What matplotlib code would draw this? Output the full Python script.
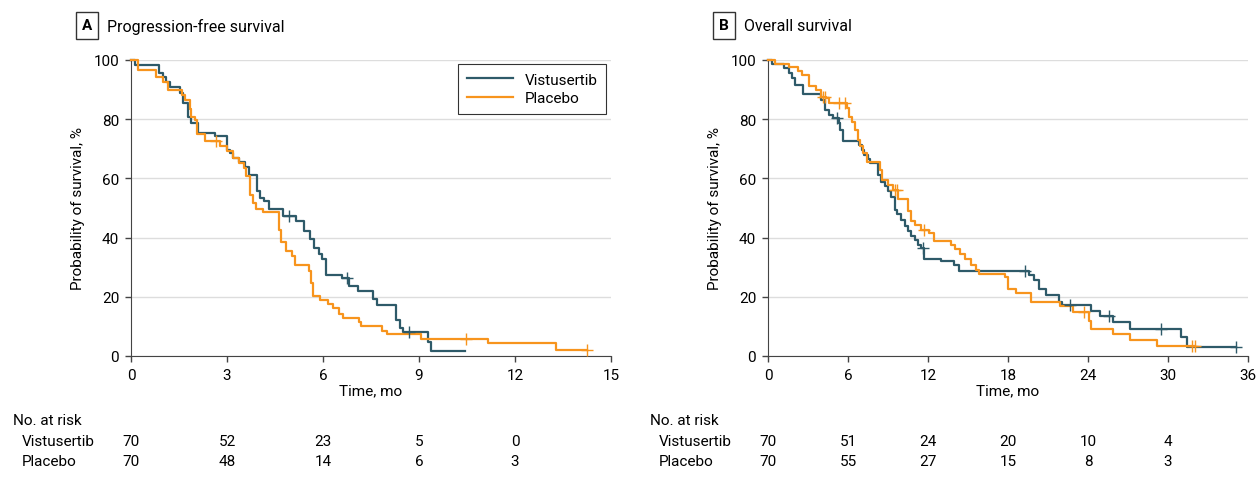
import numpy as np
import matplotlib.pyplot as plt

plt.rcParams['font.family'] = ['Liberation Sans Narrow', 'Roboto', 'DejaVu Sans']
plt.rcParams['font.size'] = 11

teal = '#2e5a69'
orange = '#f7941d'

# Progression-free survival, Vistusertib (time in months, survival %)
pfs_vis_t = [0, 0.12, 0.89, 1.0, 1.1, 1.21, 1.52, 1.63, 1.79, 1.89, 2.1, 2.63, 3.01, 3.1, 3.2,
             3.36, 3.57, 3.68, 3.94, 4.04, 4.15, 4.31, 4.75, 5.15, 5.4, 5.6, 5.73, 5.86, 5.97,
             6.1, 6.6, 6.8, 7.1, 7.56, 7.68, 8.29, 8.4, 8.5, 9.29, 9.38]
pfs_vis_s = [100, 98.3, 95.5, 94.4, 92.7, 91.0, 88.8, 85.4, 80.9, 78.7, 75.5, 74.2, 69.7, 68.5, 66.9,
             65.4, 64.0, 61.2, 55.6, 53.4, 52.2, 49.8, 47.2, 45.5, 42.3, 39.4, 36.6, 34.5, 32.7,
             27.3, 26.3, 23.6, 21.8, 19.2, 17.3, 12.3, 9.6, 8.0, 4.7, 1.6]
pfs_vis_cens = [4.95, 6.75, 8.68]
pfs_vis_end = 10.45

# Progression-free survival, Placebo
pfs_pla_t = [0, 0.21, 0.79, 1.0, 1.16, 1.58, 1.68, 1.84, 1.89, 2.0, 2.07, 2.31, 2.78, 2.99, 3.2,
             3.36, 3.52, 3.6, 3.71, 3.81, 3.92, 4.13, 4.62, 4.7, 4.83, 5.04, 5.12, 5.55, 5.62,
             5.7, 5.91, 6.17, 6.3, 6.5, 6.62, 7.13, 7.2, 7.85, 7.99, 9.06, 11.17, 13.27]
pfs_pla_s = [100, 96.6, 94.2, 92.5, 89.7, 88.2, 86.5, 83.4, 80.9, 79.8, 75.1, 72.5, 70.8, 69.1, 66.9,
             65.2, 63.5, 60.7, 54.5, 51.7, 49.7, 48.7, 42.7, 38.4, 35.4, 33.7, 30.9, 28.6, 24.8,
             20.4, 18.9, 17.5, 16.1, 14.2, 13.0, 11.5, 10.1, 8.6, 7.4, 5.7, 4.3, 2.0]
pfs_pla_cens = [2.65, 10.47, 14.26]
pfs_pla_end = 14.26

# Overall survival, Vistusertib
os_vis_t = [0, 0.32, 1.23, 1.6, 1.8, 2.05, 2.64, 3.95, 4.27, 4.57, 4.86, 5.31, 5.43, 5.6, 6.79,
            7.04, 7.23, 7.53, 7.65, 8.27, 8.47, 8.77, 9.0, 9.21, 9.56, 9.7, 10.0, 10.25, 10.49,
            10.74, 10.99, 11.23, 11.48, 11.7, 13.0, 13.95, 14.35, 19.58, 19.93, 20.33, 20.88,
            21.83, 22.08, 24.26, 24.93, 25.88, 27.14, 31.01, 31.43]
os_vis_s = [100, 98.5, 97.2, 95.5, 93.8, 91.6, 88.5, 86.5, 83.1, 81.5, 80.3, 78.7, 76.4, 72.8, 71.3,
            69.7, 68.0, 66.5, 65.2, 61.2, 58.7, 57.5, 55.6, 53.7, 49.4, 48.1, 46.1, 44.0, 42.1,
            40.4, 39.1, 37.6, 36.5, 32.8, 32.0, 30.6, 28.8, 27.3, 25.8, 22.7, 20.6,
            18.4, 17.2, 15.3, 13.4, 11.6, 9.1, 6.3, 3.0]
os_vis_cens = [5.19, 11.6, 19.25, 22.63, 25.6, 29.51, 35.13]
os_vis_end = 35.13

# Overall survival, Placebo
os_pla_t = [0, 0.5, 1.56, 2.22, 2.54, 3.09, 3.58, 3.95, 4.32, 4.57, 5.93, 6.05, 6.3, 6.49, 6.74,
            6.91, 7.16, 7.41, 8.4, 8.52, 9.01, 9.38, 9.75, 10.49, 10.69, 10.99, 11.48, 12.1,
            12.47, 13.7, 14.05, 14.4, 14.8, 15.2, 15.6, 15.85, 17.8, 17.98, 18.58, 19.71,
            21.88, 22.88, 24.08, 24.26, 25.88, 27.14, 29.19]
os_pla_s = [100, 98.5, 97.8, 96.4, 94.9, 91.2, 89.7, 87.6, 87.1, 85.4, 83.7, 80.9, 78.9, 76.4, 73.0,
            70.8, 68.5, 65.7, 62.9, 59.6, 57.9, 56.2, 53.0, 48.9, 45.5, 44.4, 42.7, 41.6,
            38.8, 37.6, 36.0, 34.5, 32.8, 30.8, 29.2, 27.8, 26.6, 22.8, 21.3, 18.1,
            16.8, 14.7, 11.9, 9.1, 7.4, 5.3, 3.4]
os_pla_cens = [4.1, 4.3, 5.3, 5.8, 9.5, 9.65, 11.73, 23.68, 31.83, 32.0]
os_pla_end = 32.0

# Numbers at risk
pfs_risk_t = [0, 3, 6, 9, 12]
pfs_risk_vis = [70, 52, 23, 5, 0]
pfs_risk_pla = [70, 48, 14, 6, 3]
os_risk_t = [0, 6, 12, 18, 24, 30]
os_risk_vis = [70, 51, 24, 20, 10, 4]
os_risk_pla = [70, 55, 27, 15, 8, 3]


def km(ax, t, s, end, cens, color, label):
    tt = np.r_[t, end]
    ss = np.r_[s, s[-1]]
    ax.step(tt, ss, where='post', color=color, lw=1.6, label=label, clip_on=False, zorder=3)
    idx = np.searchsorted(t, cens, side='right') - 1
    ax.plot(cens, np.array(s)[idx], '+', ms=8, mew=1, color=color, ls='none', clip_on=False, zorder=4)


def style(ax, xmax, step):
    ax.set_xlim(0, xmax)
    ax.set_ylim(0, 100)
    ax.set_xticks(np.arange(0, xmax + 1, step))
    ax.set_yticks(np.arange(0, 101, 20))
    ax.yaxis.grid(True, color='#dddddd', lw=1)
    ax.set_axisbelow(True)
    for sp in ['top', 'right']:
        ax.spines[sp].set_visible(False)
    for sp in ['left', 'bottom']:
        ax.spines[sp].set_color('#444444')
    ax.tick_params(length=4.5, width=1, color='#444444', pad=4, labelsize=11)
    ax.set_ylabel('Probability of survival, %', fontsize=11, labelpad=6)
    ax.set_xlabel('Time, mo', fontsize=11, labelpad=1)


def risk_table(ax, times, vis, pla):
    tr = ax.get_xaxis_transform()
    for x, a, b in zip(times, vis, pla):
        ax.text(x, -0.287, str(a), transform=tr, ha='center', va='center', fontsize=11, clip_on=False)
        ax.text(x, -0.355, str(b), transform=tr, ha='center', va='center', fontsize=11, clip_on=False)


W, H = 1259, 485
fig = plt.figure(figsize=(W / 100, H / 100), dpi=100)
axA = fig.add_axes([131 / W, 1 - 357 / H, 480 / W, 296 / H])
axB = fig.add_axes([768 / W, 1 - 357 / H, 480 / W, 296 / H])

km(axA, pfs_vis_t, pfs_vis_s, pfs_vis_end, pfs_vis_cens, teal, 'Vistusertib')
km(axA, pfs_pla_t, pfs_pla_s, pfs_pla_end, pfs_pla_cens, orange, 'Placebo')
style(axA, 15, 3)
leg = axA.legend(loc='upper right', bbox_to_anchor=(0.99, 0.986), borderaxespad=0, frameon=True,
                 fancybox=False, edgecolor='black', fontsize=11, handlelength=3.0, borderpad=0.55,
                 labelspacing=0.3)
leg.get_frame().set_linewidth(0.8)
risk_table(axA, pfs_risk_t, pfs_risk_vis, pfs_risk_pla)

km(axB, os_vis_t, os_vis_s, os_vis_end, os_vis_cens, teal, 'Vistusertib')
km(axB, os_pla_t, os_pla_s, os_pla_end, os_pla_cens, orange, 'Placebo')
style(axB, 36, 6)
risk_table(axB, os_risk_t, os_risk_vis, os_risk_pla)

# row labels for the at-risk tables
for x0, x1 in [(13, 22), (650, 659)]:
    fig.text(x0 / W, 1 - 421 / H, 'No. at risk', va='center', fontsize=11)
    fig.text(x1 / W, 1 - 442 / H, 'Vistusertib', va='center', fontsize=11)
    fig.text(x1 / W, 1 - 462 / H, 'Placebo', va='center', fontsize=11)

# panel headings
for bx, tx, letter, title in [(87, 107, 'A', 'Progression-free survival'), (724, 744, 'B', 'Overall survival')]:
    fig.text(bx / W, 1 - 26.5 / H, letter, ha='center', va='center', fontsize=11, fontweight='bold',
             bbox=dict(boxstyle='square,pad=0.4', fc='white', ec='#333333', lw=1))
    fig.text(tx / W, 1 - 26.5 / H, title, ha='left', va='center', fontsize=11.5)

fig.savefig('out.png', dpi=100)
